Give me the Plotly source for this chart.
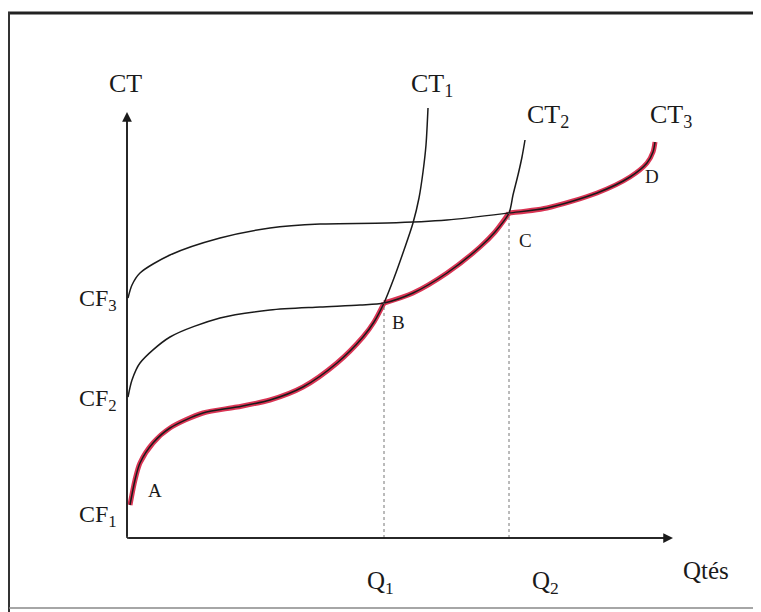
import plotly.graph_objects as go

# ---- data (Q = quantity, CT = total cost, arbitrary units) ----
ct1_q = [3, 8, 13, 26, 43, 76, 110, 143, 176, 210, 236, 247, 257, 267, 277, 286, 292, 296, 299, 301]
ct1_c = [33, 58, 75, 95, 110, 125, 131, 138, 151, 175, 201, 216, 235, 260, 288, 315, 340, 366, 393, 430]

ct2_q = [1, 5, 13, 43, 93, 143, 193, 233, 257, 286, 320, 353, 368, 382, 386, 391, 395, 398]
ct2_c = [141, 158, 175, 201, 220, 228, 231, 233, 235, 245, 265, 291, 306, 325, 343, 363, 381, 398]

ct3_q = [1, 5, 13, 43, 93, 143, 193, 260, 320, 382, 420, 470, 503, 520, 526, 528]
ct3_c = [240, 253, 265, 283, 300, 310, 314, 315, 318, 325, 330, 345, 361, 375, 386, 396]

q_marks = ["Q<sub>1</sub>", "Q<sub>2</sub>"]
q_vals = [257, 382]
cf_labels = ["CF<sub>1</sub>", "CF<sub>2</sub>", "CF<sub>3</sub>"]
cf_vals = [ct1_c[0], ct2_c[0], ct3_c[0]]
curve_labels = ["CT<sub>1</sub>", "CT<sub>2</sub>", "CT<sub>3</sub>"]
point_labels = ["A", "B", "C", "D"]

iB1 = ct1_q.index(257)
iB2 = ct2_q.index(257)
iC2 = ct2_q.index(382)
iC3 = ct3_q.index(382)

RED = "#da3454"
BLACK = "#1a1a1a"
FONT = "Liberation Serif"

fig = go.Figure()

# red highlighted long-run cost path
red_pieces = [
    (ct1_q[:iB1 + 1], ct1_c[:iB1 + 1]),
    (ct2_q[iB2:iC2 + 1], ct2_c[iB2:iC2 + 1]),
    (ct3_q[iC3:], ct3_c[iC3:]),
]
for qx, cy in red_pieces:
    fig.add_trace(go.Scatter(x=qx, y=cy, mode="lines",
                             line=dict(color=RED, width=5, shape="spline", smoothing=0.8),
                             hoverinfo="skip", showlegend=False))

for qx, cy in [(ct1_q, ct1_c), (ct2_q, ct2_c), (ct3_q, ct3_c)]:
    fig.add_trace(go.Scatter(x=qx, y=cy, mode="lines",
                             line=dict(color=BLACK, width=1.5, shape="spline", smoothing=0.8),
                             hoverinfo="skip", showlegend=False))

# dotted verticals
fig.add_trace(go.Scatter(x=[q_vals[0], q_vals[0]], y=[0, ct1_c[iB1]], mode="lines",
                         line=dict(color="#777", width=1, dash="dot"), hoverinfo="skip", showlegend=False))
fig.add_trace(go.Scatter(x=[q_vals[1], q_vals[1]], y=[0, ct2_c[iC2]], mode="lines",
                         line=dict(color="#777", width=1, dash="dot"), hoverinfo="skip", showlegend=False))

ann = []
# axes with arrows
ann.append(dict(x=0, y=426, ax=0, ay=0, xref="x", yref="y", axref="x", ayref="y",
                showarrow=True, arrowhead=2, arrowsize=1.3, arrowwidth=1.5, arrowcolor=BLACK, text=""))
ann.append(dict(x=546, y=0, ax=0, ay=0, xref="x", yref="y", axref="x", ayref="y",
                showarrow=True, arrowhead=2, arrowsize=1.3, arrowwidth=1.5, arrowcolor=BLACK, text=""))

def lab(x, y, t, size=25):
    ann.append(dict(x=x, y=y, xref="x", yref="y", text=t, showarrow=False,
                    font=dict(family=FONT, size=size, color=BLACK)))

lab(-2, 455, "CT", 26)
lab(-29, cf_vals[0] - 11, cf_labels[0], 24)
lab(-29, cf_vals[1] - 3, cf_labels[1], 24)
lab(-29, cf_vals[2] - 2, cf_labels[2], 24)
lab(305, 453, curve_labels[0], 26)
lab(421, 422, curve_labels[1], 26)
lab(544, 422, curve_labels[2], 26)
lab(q_vals[0] - 4, -44, q_marks[0], 25)
lab(q_vals[1] + 36, -44, q_marks[1], 25)
lab(579, -32, "Qtés", 25)
lab(28, 48, point_labels[0], 19)
lab(271, 216, point_labels[1], 19)
lab(398, 298, point_labels[2], 19)
lab(525, 362, point_labels[3], 19)

W, H = 761, 612
fig.update_layout(
    width=W, height=H,
    margin=dict(l=0, r=0, t=0, b=0),
    paper_bgcolor="white", plot_bgcolor="white",
    xaxis=dict(range=[-119, 642], visible=False, fixedrange=True),
    yaxis=dict(range=[-82, 530], visible=False, fixedrange=True),
    annotations=ann,
    shapes=[
        dict(type="line", xref="x", yref="y", x0=0, y0=0, x1=0, y1=420, line=dict(color=BLACK, width=1.5)),
        dict(type="line", xref="x", yref="y", x0=0, y0=0, x1=540, y1=0, line=dict(color=BLACK, width=1.5)),
        # frame
        dict(type="line", xref="paper", yref="paper", x0=0, x1=749 / W, y0=1 - 5 / H, y1=1 - 5 / H,
             line=dict(color="#222", width=3)),
        dict(type="line", xref="paper", yref="paper", x0=1 / W, x1=1 / W, y0=0, y1=1 - 4 / H,
             line=dict(color="#333", width=2)),
        dict(type="line", xref="paper", yref="paper", x0=747 / W, x1=747 / W, y0=1 - 600 / H, y1=1 - 4 / H,
             line=dict(color="#555", width=1.5)),
        dict(type="line", xref="paper", yref="paper", x0=1 / W, x1=747 / W, y0=1 - 600 / H, y1=1 - 600 / H,
             line=dict(color="#888", width=1.5)),
    ],
    showlegend=False,
)

fig.write_html("out.html")
